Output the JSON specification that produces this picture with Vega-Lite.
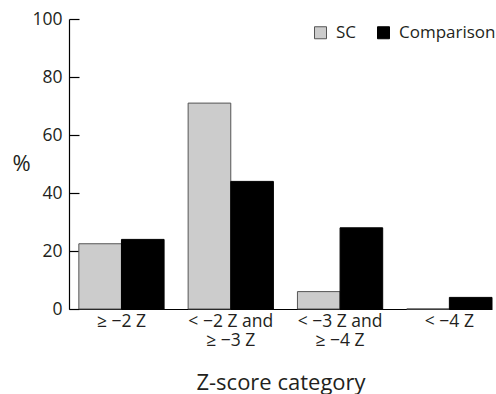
{
  "$schema": "https://vega.github.io/schema/vega-lite/v6.json",
  "width": 423,
  "height": 290,
  "autosize": {"type": "none"},
  "padding": {"left": 69, "top": 19, "right": 4, "bottom": 85},
  "background": "white",
  "config": {
    "view": {"stroke": null},
    "font": "Open Sans",
    "axis": {"labelColor": "#231f20", "titleColor": "#231f20", "domainColor": "#000000", "tickColor": "#000000", "grid": false, "labelFont": "Open Sans", "titleFont": "Open Sans", "titleFontWeight": "normal"},
    "legend": {"labelColor": "#231f20", "labelFont": "Open Sans"}
  },
  "data": {
    "values": [
      {"category": "≥ −2 Z", "group": "SC", "percent": 22.5},
      {"category": "≥ −2 Z", "group": "Comparison", "percent": 24},
      {"category": "< −2 Z and\n≥ −3 Z", "group": "SC", "percent": 71},
      {"category": "< −2 Z and\n≥ −3 Z", "group": "Comparison", "percent": 44},
      {"category": "< −3 Z and\n≥ −4 Z", "group": "SC", "percent": 6},
      {"category": "< −3 Z and\n≥ −4 Z", "group": "Comparison", "percent": 28},
      {"category": "< −4 Z", "group": "SC", "percent": 0},
      {"category": "< −4 Z", "group": "Comparison", "percent": 4}
    ]
  },
  "mark": {"type": "bar", "strokeWidth": 1},
  "encoding": {
    "x": {
      "field": "category",
      "type": "nominal",
      "sort": null,
      "scale": {"paddingInner": 0.22, "paddingOuter": 0.045, "align": 1},
      "axis": {
        "title": "Z-score category",
        "titleFontSize": 22,
        "titleY": 80,
        "titleBaseline": "alphabetic",
        "labelAngle": 0,
        "labelFontSize": 17.5,
        "labelLineHeight": 19.5,
        "labelPadding": 3,
        "ticks": false,
        "domainWidth": 1.2,
        "labelExpr": "split(datum.label, '\\n')"
      }
    },
    "xOffset": {
      "field": "group",
      "type": "nominal",
      "sort": ["SC", "Comparison"],
      "scale": {"paddingInner": 0, "paddingOuter": 0}
    },
    "y": {
      "field": "percent",
      "type": "quantitative",
      "scale": {"domain": [0, 100], "nice": false},
      "axis": {
        "title": "%",
        "titleAngle": 0,
        "titleFontSize": 22,
        "titleAlign": "center",
        "titleBaseline": "middle",
        "titleX": -48,
        "titleY": 144,
        "values": [0, 20, 40, 60, 80, 100],
        "labelFontSize": 17.5,
        "tickSize": -10,
        "labelPadding": 17,
        "domainWidth": 1.2,
        "tickWidth": 1.2
      }
    },
    "color": {
      "field": "group",
      "type": "nominal",
      "sort": ["SC", "Comparison"],
      "scale": {"domain": ["SC", "Comparison"], "range": ["#cccccc", "#000000"]},
      "legend": {
        "title": null,
        "orient": "none",
        "direction": "horizontal",
        "legendX": 243,
        "legendY": 5,
        "symbolType": "square",
        "symbolSize": 144,
        "symbolStrokeColor": "#555555",
        "symbolStrokeWidth": 1,
        "labelFontSize": 17,
        "labelOffset": 7,
        "columnPadding": 18
      }
    },
    "stroke": {
      "field": "group",
      "type": "nominal",
      "scale": {"domain": ["SC", "Comparison"], "range": ["#555555", "#000000"]},
      "legend": null
    }
  }
}
